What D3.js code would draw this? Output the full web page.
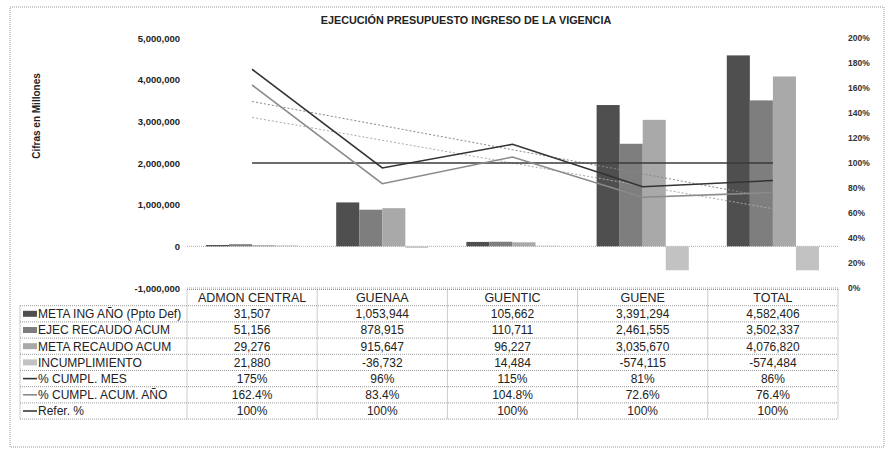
<!DOCTYPE html>
<html>
<head>
<meta charset="utf-8">
<script src="https://cdn.jsdelivr.net/npm/d3@7"></script>
<style>
  body { margin: 0; background: #fff; }
  svg { font-family: Arial, "Liberation Sans", sans-serif; }
</style>
</head>
<body>
<svg id="chart" width="887" height="450"></svg>
<script>
// Ejecucion presupuesto - combo chart with data table

const categories = ["ADMON CENTRAL", "GUENAA", "GUENTIC", "GUENE", "TOTAL"];
const metaIng   = [31507, 1053944, 105662, 3391294, 4582406];
const ejecRec   = [51156, 878915, 110711, 2461555, 3502337];
const metaRec   = [29276, 915647, 96227, 3035670, 4076820];
const incumpl   = [21880, -36732, 14484, -574115, -574484];
const cumplMes  = [1.75, 0.96, 1.15, 0.81, 0.86];
const cumplAcum = [1.624, 0.834, 1.048, 0.726, 0.764];
const referPct  = [1, 1, 1, 1, 1];

const leftTicks  = [-1000000, 0, 1000000, 2000000, 3000000, 4000000, 5000000];
const rightTicks = [0, 0.2, 0.4, 0.6, 0.8, 1.0, 1.2, 1.4, 1.6, 1.8, 2.0];

const barSeries = [
    { name: "META ING AÑO (Ppto Def)", values: metaIng, color: "#4f4f4f" },
    { name: "EJEC RECAUDO ACUM", values: ejecRec, color: "#7e7e7e" },
    { name: "META RECAUDO ACUM", values: metaRec, color: "#a9a9a9" },
    { name: "INCUMPLIMIENTO", values: incumpl, color: "#c2c2c2" }
];

const loc = d3.formatLocale({ decimal: ".", thousands: ",", grouping: [3], currency: ["$", ""], minus: "-" });
const fmtNum = loc.format(",");

const lineSeries = [
    { name: "% CUMPL. MES", values: cumplMes, color: "#333", fmt: loc.format(".0%") },
    { name: "% CUMPL. ACUM. AÑO", values: cumplAcum, color: "#8a8a8a", fmt: loc.format(".1%") },
    { name: "Refer. %", values: referPct, color: "#3a3a3a", fmt: loc.format(".0%") }
];

const svg = d3.select("#chart");
const plot = { left: 187, right: 838, top: 38, bottom: 288 };

// outer dotted frame
svg.append("rect")
    .attr("x", 10).attr("y", 7).attr("width", 874).attr("height", 440)
    .attr("fill", "none").attr("stroke", "#999").attr("stroke-dasharray", "1,1");

svg.append("text")
    .attr("x", 466).attr("y", 24)
    .attr("text-anchor", "middle")
    .attr("font-size", "10.8px").attr("font-weight", "bold")
    .attr("fill", "#222")
    .text("EJECUCIÓN PRESUPUESTO INGRESO DE LA VIGENCIA");

svg.append("text")
    .attr("transform", "translate(40,116) rotate(-90)")
    .attr("text-anchor", "middle")
    .attr("font-size", "10px").attr("font-weight", "bold")
    .attr("fill", "#222")
    .text("Cifras en Millones");

const x0 = d3.scaleBand().domain(categories).range([plot.left, plot.right]);
const bw = x0.bandwidth();
const x1 = d3.scaleBand().domain(barSeries.map(d => d.name)).range([19, bw - 19]);
const yL = d3.scaleLinear().domain([-1000000, 5000000]).range([plot.bottom, plot.top]);
const yR = d3.scaleLinear().domain([0, 2]).range([plot.bottom, plot.top]);

// axes (labels only)
const axL = svg.append("g")
    .attr("transform", `translate(${plot.left},0)`)
    .call(d3.axisLeft(yL).tickValues(leftTicks).tickFormat(fmtNum).tickSize(0).tickPadding(7));
axL.select(".domain").remove();
axL.selectAll("text").attr("font-size", "9.5px").attr("font-weight", "bold").attr("fill", "#222")
    .attr("font-family", "Arial, 'Liberation Sans', sans-serif");

const axR = svg.append("g")
    .attr("transform", `translate(${plot.right},0)`)
    .call(d3.axisRight(yR).tickValues(rightTicks).tickFormat(loc.format(".0%")).tickSize(0).tickPadding(10));
axR.select(".domain").remove();
axR.selectAll("text").attr("font-size", "8.5px").attr("font-weight", "bold").attr("fill", "#333")
    .attr("font-family", "Arial, 'Liberation Sans', sans-serif");

// zero line and bottom of plot
[0, -1000000].forEach(v => {
    svg.append("line")
        .attr("x1", plot.left).attr("x2", plot.right)
        .attr("y1", yL(v)).attr("y2", yL(v))
        .attr("stroke", "#aaa").attr("stroke-dasharray", "1,1");
});

// bars
barSeries.forEach(s => {
    svg.selectAll(null)
        .data(s.values)
        .enter()
        .append("rect")
        .attr("x", (d, i) => x0(categories[i]) + x1(s.name))
        .attr("width", x1.bandwidth())
        .attr("y", d => yL(Math.max(0, d)))
        .attr("height", d => Math.abs(yL(d) - yL(0)))
        .attr("fill", s.color);
});

// linear trend like excel
function linearTrend(values) {
    const xs = values.map((d, i) => i + 1);
    const mx = d3.mean(xs), my = d3.mean(values);
    const slope = d3.sum(xs, (xv, i) => (xv - mx) * (values[i] - my)) / d3.sum(xs, xv => (xv - mx) ** 2);
    return xs.map(xv => my + slope * (xv - mx));
}

const cx = i => x0(categories[i]) + bw / 2;
const line = d3.line().x((d, i) => cx(i)).y(d => yR(d));

svg.append("path").attr("d", line(linearTrend(cumplMes)))
    .attr("fill", "none").attr("stroke", "#888").attr("stroke-width", 1).attr("stroke-dasharray", "2,2");
svg.append("path").attr("d", line(linearTrend(cumplAcum)))
    .attr("fill", "none").attr("stroke", "#aaa").attr("stroke-width", 1).attr("stroke-dasharray", "2,2");

lineSeries.slice().reverse().forEach(s => {
    svg.append("path").attr("d", line(s.values))
        .attr("fill", "none").attr("stroke", s.color).attr("stroke-width", 1.6);
});

// data table
const tbl = { left: 20, top: 289.5, rowH: 16.2 };
const rows = barSeries.map(s => ({ name: s.name, key: "bar", color: s.color, cells: s.values.map(fmtNum) }))
    .concat(lineSeries.map(s => ({ name: s.name, key: "line", color: s.color, cells: s.values.map(s.fmt) })));
const tableBottom = tbl.top + tbl.rowH * (rows.length + 1);
const grid = svg.append("g").attr("stroke", "#999").attr("stroke-dasharray", "1,1");

// horizontal lines
d3.range(rows.length + 2).forEach(i => {
    const y = tbl.top + i * tbl.rowH;
    grid.append("line")
        .attr("x1", i === 0 ? plot.left : tbl.left).attr("x2", plot.right)
        .attr("y1", y).attr("y2", y);
});
// vertical lines
grid.append("line").attr("x1", tbl.left).attr("x2", tbl.left)
    .attr("y1", tbl.top + tbl.rowH).attr("y2", tableBottom);
categories.forEach(c => {
    grid.append("line").attr("x1", x0(c)).attr("x2", x0(c)).attr("y1", tbl.top).attr("y2", tableBottom);
});
grid.append("line").attr("x1", plot.right).attr("x2", plot.right).attr("y1", tbl.top).attr("y2", tableBottom);

svg.selectAll("text.head")
    .data(categories)
    .enter()
    .append("text")
    .attr("class", "head")
    .attr("x", d => x0(d) + bw / 2)
    .attr("y", tbl.top + tbl.rowH / 2)
    .attr("dy", "0.36em")
    .attr("text-anchor", "middle")
    .attr("font-size", "12.5px").attr("fill", "#222")
    .text(d => d);

rows.forEach((r, ri) => {
    const yc = tbl.top + (ri + 1.5) * tbl.rowH;
    if (r.key === "bar") {
        svg.append("rect").attr("x", 23).attr("y", yc - 3).attr("width", 14).attr("height", 6).attr("fill", r.color);
    } else {
        svg.append("line").attr("x1", 23).attr("x2", 37).attr("y1", yc).attr("y2", yc)
            .attr("stroke", r.color).attr("stroke-width", 1.6);
    }
    svg.append("text")
        .attr("x", 38).attr("y", yc).attr("dy", "0.36em")
        .attr("font-size", "12px").attr("fill", "#222")
        .text(r.name);
    svg.selectAll(null)
        .data(r.cells)
        .enter()
        .append("text")
        .attr("x", (d, i) => x0(categories[i]) + bw / 2)
        .attr("y", yc).attr("dy", "0.36em")
        .attr("text-anchor", "middle")
        .attr("font-size", "12px").attr("fill", "#222")
        .text(d => d);
});
</script>
</body>
</html>
